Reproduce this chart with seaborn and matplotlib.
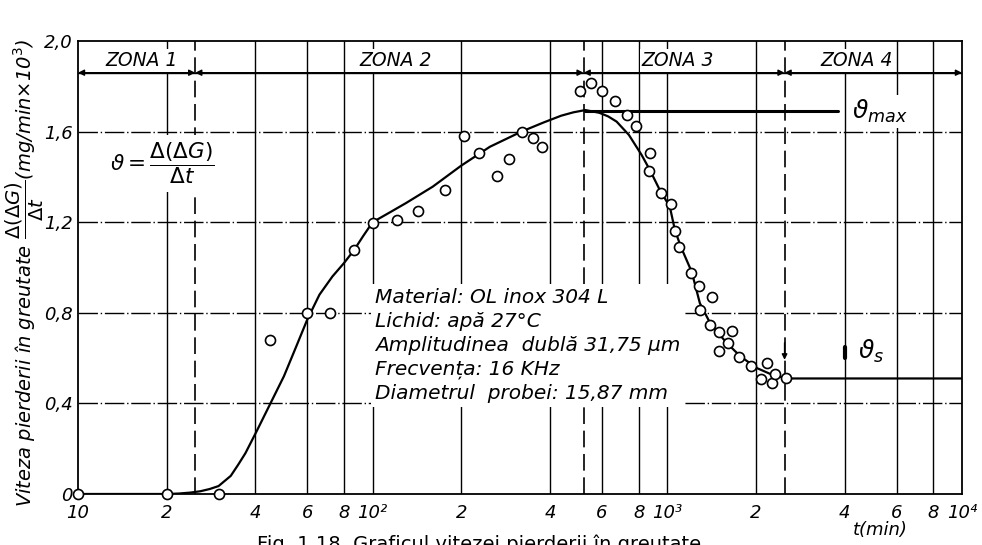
import matplotlib
matplotlib.use("Agg")
import matplotlib.pyplot as plt
import seaborn as sns
import pandas as pd

# measured points: t (min) and erosion rate v (mg/min x 10^3)
t_pts = [10, 20, 30, 44.8, 59.8, 71.6, 86.5, 100, 121, 143, 176, 204, 230, 264, 290, 321, 350, 375,
         505, 550, 600, 664, 729, 782, 873, 865, 951, 1028, 1061, 1095, 1203, 1280, 1416, 1290, 1395,
         1497, 1656, 1606, 1497, 1750, 1923, 2179, 2080, 2265, 2317, 2524]
v_pts = [0, 0, 0, 0.68, 0.80, 0.80, 1.077, 1.196, 1.21, 1.25, 1.34, 1.58, 1.506, 1.404, 1.48, 1.60, 1.57, 1.53,
         1.78, 1.815, 1.78, 1.735, 1.673, 1.625, 1.506, 1.426, 1.329, 1.28, 1.161, 1.09, 0.976, 0.918, 0.87, 0.812, 0.746,
         0.715, 0.72, 0.667, 0.631, 0.605, 0.565, 0.578, 0.508, 0.49, 0.53, 0.512]

# hand-drawn fitted curve
t_fit = [10, 20, 22, 24, 26, 28, 30, 33, 35, 37, 40.5, 45, 50, 55, 60, 66, 73, 80, 86.5, 93, 100,
         115, 130, 160, 200, 250, 320, 380, 436, 480, 527, 588, 630, 673, 741, 818, 873, 943, 1020,
         1061, 1111, 1210, 1290, 1397, 1500, 1592, 1700, 1804, 2013, 2282, 2545, 10000]
v_fit = [0, 0, 0.002, 0.006, 0.012, 0.022, 0.035, 0.08, 0.13, 0.18, 0.28, 0.40, 0.52, 0.65, 0.77, 0.88, 0.96, 1.02, 1.077, 1.14, 1.20,
         1.245, 1.285, 1.357, 1.45, 1.533, 1.60, 1.64, 1.67, 1.685, 1.695, 1.683, 1.667, 1.644, 1.585, 1.497, 1.43, 1.342, 1.268,
         1.166, 1.092, 0.981, 0.842, 0.755, 0.705, 0.667, 0.63, 0.60, 0.556, 0.525, 0.51, 0.51]

v_max = 1.69
v_max_end = 3800

zone_bounds = [10, 25, 520, 2500, 10000]
zone_names = ["ZONA 1", "ZONA 2", "ZONA 3", "ZONA 4"]
zone_label_x = [16.5, 120, 1086, 4400]
zone_line_y = 1.86

x_ticks = [10, 20, 40, 60, 80, 100, 200, 400, 600, 800, 1000, 2000, 4000, 6000, 8000, 10000]
x_labels = ["10", "2", "4", "6", "8", "10²", "2", "4", "6", "8", "10³", "2", "4", "6", "8", "10⁴"]
y_ticks = [0, 0.4, 0.8, 1.2, 1.6, 2.0]
y_labels = ["0", "0,4", "0,8", "1,2", "1,6", "2,0"]

info = ("Material: OL inox 304 L\n"
        "Lichid: apă 27°C\n"
        "Amplitudinea  dublă 31,75 μm\n"
        "Frecvența: 16 KHz\n"
        "Diametrul  probei: 15,87 mm")

sns.set_style("white")
plt.rcParams["font.family"] = ["DejaVu Sans"]
plt.rcParams["mathtext.fontset"] = "dejavusans"
plt.rcParams["text.color"] = "black"
plt.rcParams["xtick.color"] = "black"
plt.rcParams["ytick.color"] = "black"

fig = plt.figure(figsize=(9.82, 5.45), dpi=100)
ax = fig.add_axes([0.0794, 0.0936, 0.9002, 0.8312])
ax.set_xscale("log")
ax.set_xlim(10, 10000)
ax.set_ylim(0, 2.0)

# grid
for x in x_ticks[1:-1]:
    ax.axvline(x, color="black", lw=1.0, zorder=1)
for y in y_ticks[1:-1]:
    ax.axhline(y, color="black", lw=1.0, ls=(0, (14, 2, 1, 2)), zorder=1)
ax.axhline(zone_line_y, color="black", lw=1.0, zorder=1)
for b in zone_bounds[1:-1]:
    ax.axvline(b, color="black", lw=1.2, ls=(0, (10, 4)), zorder=1)

# zone arrows and labels
for i, name in enumerate(zone_names):
    ax.annotate("", xy=(zone_bounds[i + 1], zone_line_y), xytext=(zone_bounds[i], zone_line_y),
                arrowprops=dict(arrowstyle="<|-|>", color="black", lw=1.0, mutation_scale=9,
                                shrinkA=0, shrinkB=0), zorder=3)
    ax.text(zone_label_x[i], 1.915, name, ha="center", va="center", fontsize=13.5, style="italic",
            bbox=dict(facecolor="white", edgecolor="none", pad=1.5), zorder=4)

# fitted curve + v_max line
fit = pd.DataFrame({"t": t_fit, "v": v_fit})
sns.lineplot(data=fit, x="t", y="v", color="black", lw=1.6, sort=False, estimator=None, ax=ax, zorder=5)
ax.plot([t_fit[v_fit.index(max(v_fit))], v_max_end], [v_max, v_max], color="black", lw=2.2, zorder=5)

# measured points
pts = pd.DataFrame({"t": t_pts, "v": v_pts})
sns.scatterplot(data=pts, x="t", y="v", marker="o", s=52, facecolor="white", edgecolor="black",
                linewidth=1.2, ax=ax, zorder=6, clip_on=False)

# texts
ax.text(4250, v_max, r"$\vartheta_{max}$", fontsize=18, ha="left", va="center",
        bbox=dict(facecolor="white", edgecolor="none", pad=2), zorder=4)
ax.text(4450, 0.63, r"$\vartheta_s$", fontsize=18, ha="left", va="center",
        bbox=dict(facecolor="white", edgecolor="none", pad=1), zorder=4)
ax.annotate("", xy=(2500, 0.58), xytext=(2500, 0.68),
            arrowprops=dict(arrowstyle="-|>", color="black", lw=1.0, mutation_scale=8), zorder=5)
ax.plot([4000, 4000], [0.60, 0.65], color="black", lw=3, zorder=5)
ax.text(19.3, 1.46, r"$\vartheta = \dfrac{\Delta(\Delta G)}{\Delta t}$", fontsize=15.5, ha="center", va="center",
        bbox=dict(facecolor="white", edgecolor="none", pad=4), zorder=4)
ax.text(102, 0.91, info, fontsize=14.5, style="italic", ha="left", va="top", linespacing=1.33,
        bbox=dict(facecolor="white", edgecolor="none", pad=3), zorder=4)
ax.text(5300, -0.16, "t(min)", fontsize=13, style="italic", ha="center", va="center", clip_on=False)

# axes
ax.set_xticks(x_ticks)
ax.set_xticklabels(x_labels, fontsize=13, style="italic")
ax.xaxis.set_minor_locator(matplotlib.ticker.NullLocator())
ax.set_yticks(y_ticks)
ax.set_yticklabels(y_labels, fontsize=13, style="italic")
ax.tick_params(axis="x", length=0, pad=7)
ax.tick_params(axis="y", length=0, pad=4)
ax.set_xlabel("")
ax.set_ylabel("")
for s in ax.spines.values():
    s.set_color("black")
    s.set_linewidth(1.3)

fig.text(0.025, 0.5,
         r"Viteza pierderii în greutate $\dfrac{\Delta(\Delta G)}{\Delta t}$(mg/min$\times$10$^3$)",
         rotation=90, fontsize=14, style="italic", ha="center", va="center")
fig.text(0.262, 0.02, "Fig. 1.18. Graficul vitezei pierderii în greutate", fontsize=14,
         ha="left", va="top")

fig.savefig("out.png", dpi=100)
